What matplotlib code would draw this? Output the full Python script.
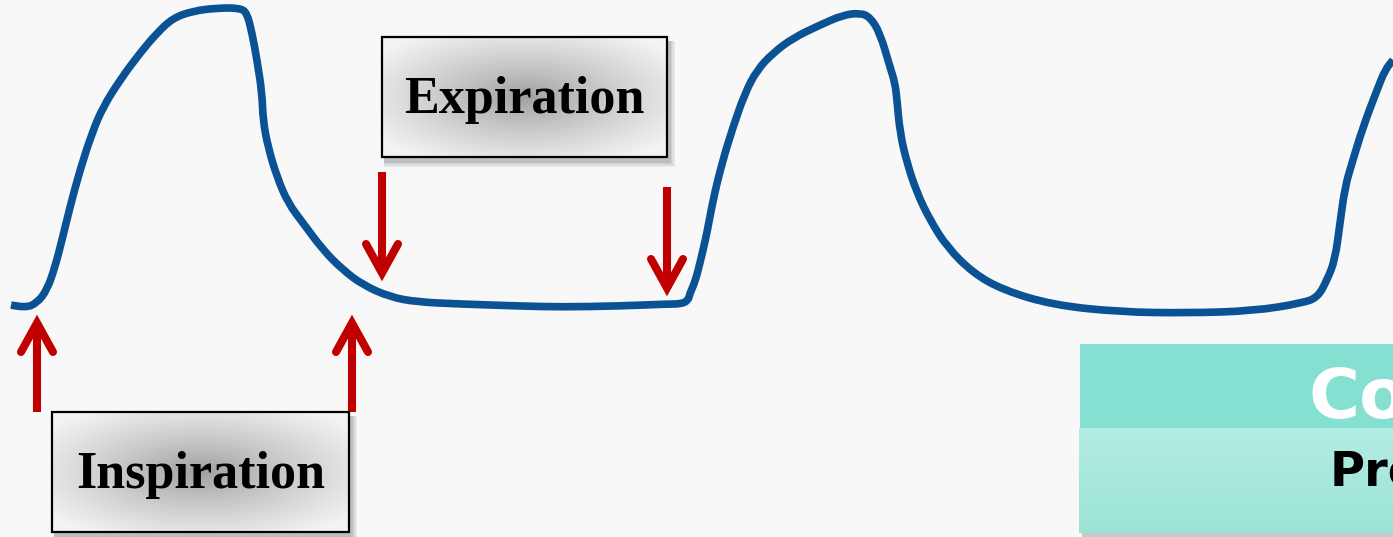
import matplotlib
matplotlib.use("Agg")
import matplotlib.pyplot as plt
from matplotlib.patches import Rectangle, PathPatch
from matplotlib.path import Path
import numpy as np

# waveform (pixel coords, y grows downward)
wave_x = [11, 25, 37, 47, 55, 62, 70, 80, 92, 103, 120, 140, 157, 173, 193, 217, 240,
          247, 252, 257, 262, 263, 268, 277, 288, 303, 323, 343, 363, 390, 417, 460,
          520, 560, 620, 668, 680, 688, 690, 695, 700, 707, 713, 722, 733, 745, 757,
          773, 793, 820, 843, 860, 870, 880, 890, 895, 897, 900, 907, 917, 930, 947,
          973, 1003, 1053, 1120, 1187, 1253, 1303, 1318, 1327, 1335, 1340, 1345, 1352,
          1363, 1377, 1385, 1393]
wave_y = [305, 308, 303, 290, 267, 240, 207, 170, 133, 107, 80, 53, 33, 18, 11, 8, 8,
          13, 33, 60, 93, 120, 147, 177, 203, 223, 250, 270, 285, 297, 302, 304,
          306, 307, 306, 304, 304, 301, 293, 282, 263, 233, 200, 163, 127, 93, 70,
          53, 38, 25, 15, 13, 17, 33, 67, 83, 100, 133, 163, 193, 220, 247,
          273, 290, 305, 312, 313, 311, 303, 297, 280, 260, 223, 187, 163,
          127, 90, 70, 60]

# arrows: x, tail y, tip y
arrow_x = [37, 352, 382, 667]
arrow_tail = [412, 412, 172, 187]
arrow_tip = [323, 323, 273, 288]

labels = ["Expiration", "Inspiration"]

W, H = 1393, 537
fig = plt.figure(figsize=(W / 100, H / 100), dpi=100)
fig.patch.set_facecolor("#f8f8f8")
ax = fig.add_axes([0, 0, 1, 1])
ax.set_xlim(0, W)
ax.set_ylim(H, 0)
ax.axis("off")
ax.set_facecolor("#f8f8f8")

# smooth stroke: traced points used as quadratic bezier control points
pts = list(zip(wave_x, wave_y))
verts = [pts[0]]
codes = [Path.MOVETO]
for i in range(1, len(pts) - 1):
    mid = ((pts[i][0] + pts[i + 1][0]) / 2, (pts[i][1] + pts[i + 1][1]) / 2)
    verts += [pts[i], mid]
    codes += [Path.CURVE3, Path.CURVE3]
verts.append(pts[-1])
codes.append(Path.LINETO)
ax.add_patch(PathPatch(Path(verts, codes), facecolor="none", edgecolor="#0a5294",
                       lw=5.5, capstyle="butt", joinstyle="round", zorder=3))

red = "#c00000"
for x, t0, t1 in zip(arrow_x, arrow_tail, arrow_tip):
    d = 1 if t1 > t0 else -1
    ax.plot([x, x], [t0, t1 - d * 4], color=red, lw=5.8, solid_capstyle="butt", zorder=4)
    ax.plot([x - 16, x, x + 16], [t1 - d * 29, t1, t1 - d * 29], color=red, lw=5.8,
            solid_capstyle="round", solid_joinstyle="miter", zorder=4)


def grey_box(x0, y0, x1, y1, text, baseline):
    # soft shadow
    for i, a in enumerate([0.10, 0.12, 0.16, 0.2]):
        off = 8 - i * 1.5
        ax.add_patch(Rectangle((x0 + 2, y0 + 4), x1 - x0 + off - 2, y1 - y0 + off - 2,
                               facecolor="#808080", edgecolor="none", alpha=a, zorder=5))
    gx = np.linspace(-1, 1, 300)
    gy = np.linspace(-1, 1, 120)
    X, Y = np.meshgrid(gx, gy)
    r = np.clip(np.sqrt(X ** 2 + Y ** 2), 0, 1.25) / 1.25
    img = 0.62 + (0.95 - 0.62) * r ** 0.85
    ax.imshow(img, cmap="gray", vmin=0, vmax=1, extent=(x0, x1, y1, y0),
              aspect="auto", zorder=6, interpolation="bilinear")
    ax.add_patch(Rectangle((x0, y0), x1 - x0, y1 - y0, facecolor="none",
                           edgecolor="black", lw=1.6, zorder=7))
    ax.text((x0 + x1) / 2, baseline, text, ha="center", va="baseline",
            family="Liberation Serif", weight="bold", fontsize=37.5, color="black", zorder=8)


grey_box(382, 37, 667, 157, labels[0], 113)
grey_box(52, 412, 349, 532, labels[1], 488)

# teal title box at lower right (cut off by the frame, as in the source)
ax.add_patch(Rectangle((1082, 533), W - 1082, 5, facecolor="#c8c8c8", edgecolor="none", zorder=5))
ax.add_patch(Rectangle((1080, 344), W - 1080, 84, facecolor="#86e0d1", edgecolor="none", zorder=6))
band = np.linspace(0, 1, 100)[:, None] * np.ones((1, 50))
teal = np.zeros((100, 50, 3))
top_c = np.array([0xb3, 0xec, 0xe2]) / 255
bot_c = np.array([0x9c, 0xe4, 0xd6]) / 255
for k in range(3):
    teal[:, :, k] = top_c[k] + (bot_c[k] - top_c[k]) * band
ax.imshow(teal, extent=(1079, W, 533, 428), aspect="auto", zorder=6, interpolation="bilinear")
ax.text(1308, 418, "Co", ha="left", va="baseline", family="DejaVu Sans", weight="bold",
        fontsize=50, color="white", zorder=8, clip_on=True)
ax.text(1330, 485, "Pre", ha="left", va="baseline", family="DejaVu Sans", weight="bold",
        fontsize=34.5, color="black", zorder=8, clip_on=True)

fig.savefig("out.png", dpi=100, facecolor=fig.get_facecolor())
